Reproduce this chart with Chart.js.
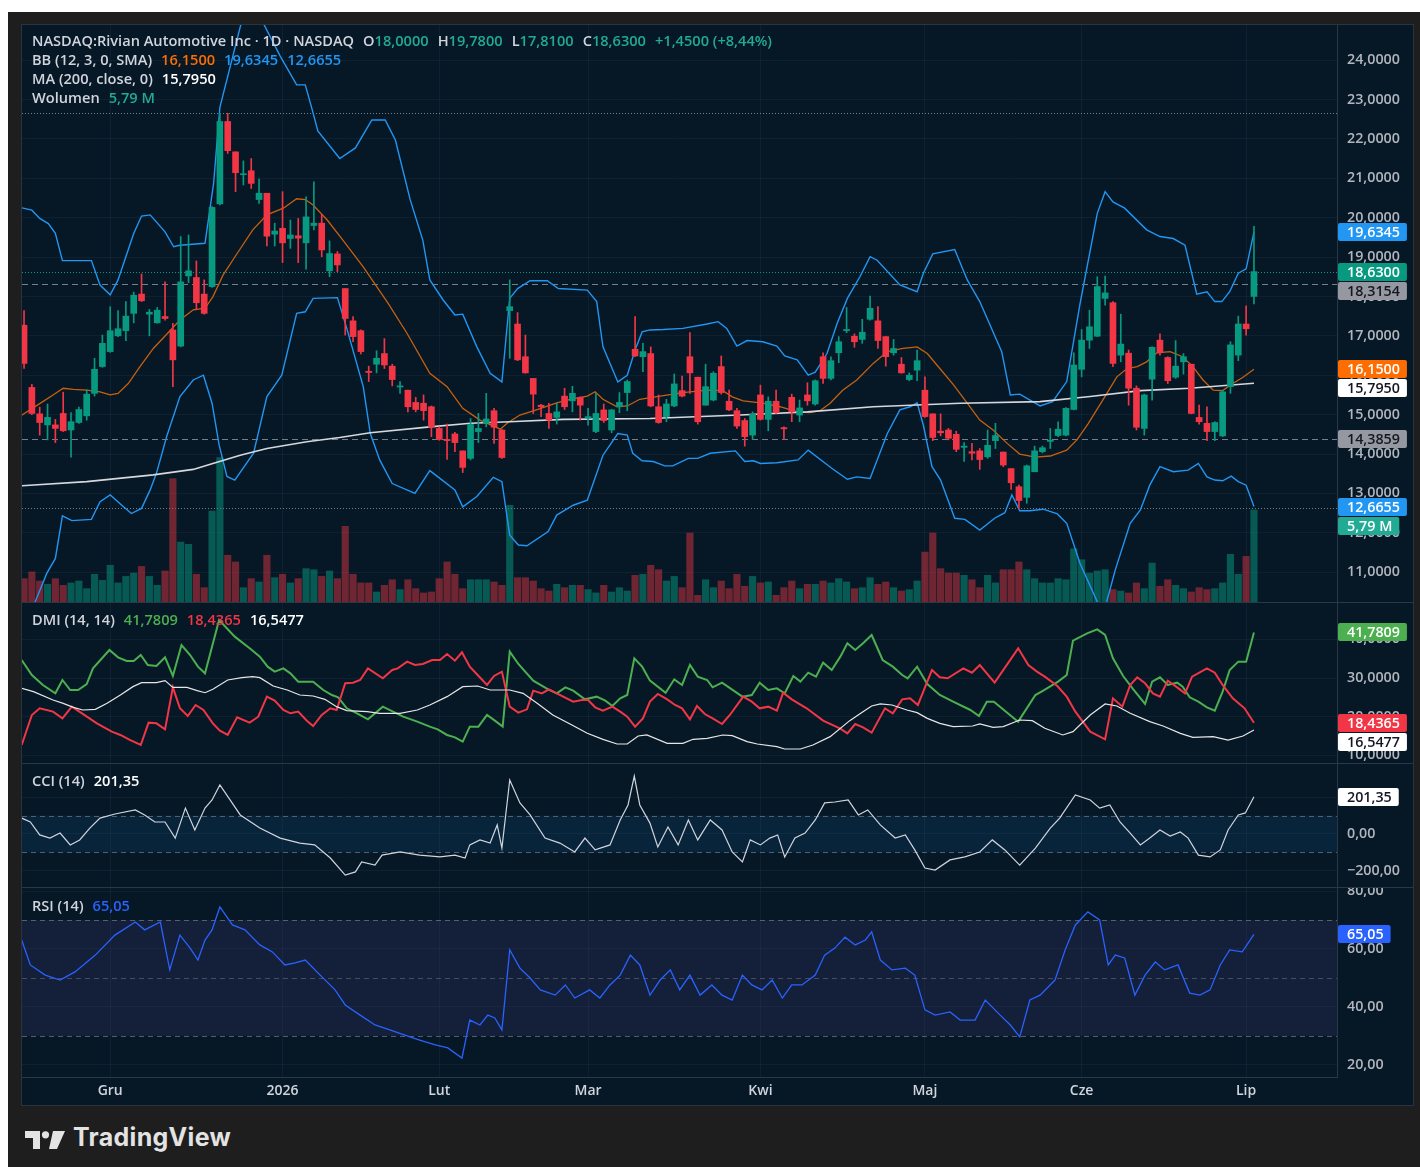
<!DOCTYPE html>
<html>
<head>
<meta charset="utf-8">
<script src="https://cdn.jsdelivr.net/npm/chart.js@4.4.1/dist/chart.umd.min.js"></script>
<style>
html,body{margin:0;padding:0;background:#fff;}
body{width:1420px;height:1167px;position:relative;overflow:hidden;font-family:"Open Sans","Noto Sans",sans-serif;}
#frame{position:absolute;left:8px;top:12px;width:1412px;height:1155px;background:#1e1e1e;}
#panel{position:absolute;left:22px;top:25px;width:1391px;height:1080px;background:#061826;box-shadow:0 0 0 1px #2a3441;}
canvas{position:absolute;left:0;}
.leg{position:absolute;left:10px;font-size:14.6px;font-weight:600;color:#d1d4dc;white-space:nowrap;line-height:18px;}
.leg span{margin-left:9px;}
.leg span.n{margin-left:0;}
.g{color:#22ab94;} .o{color:#ff6d00;} .b{color:#2196f3;} .w{color:#ffffff;}
.dg{color:#4caf50;} .r{color:#f23645;} .rb{color:#2962ff;}
#logo{position:absolute;left:25px;top:1131px;}
#brand{position:absolute;left:73px;top:1122px;font-family:Inter,"Open Sans",sans-serif;font-weight:700;font-size:25px;color:#e3e3e3;letter-spacing:0.3px;}
</style>
</head>
<body>
<div id="frame"></div>
<div id="panel">
  <canvas id="cMain" width="1391" height="577" style="top:0"></canvas>
  <canvas id="cDmi" width="1391" height="161" style="top:577px"></canvas>
  <canvas id="cCci" width="1391" height="124" style="top:738px"></canvas>
  <canvas id="cRsi" width="1391" height="218" style="top:862px"></canvas>

  <div class="leg" style="top:6px">NASDAQ:Rivian Automotive Inc · 1D · NASDAQ<span>O</span><span class="g n">18,0000</span><span>H</span><span class="g n">19,7800</span><span>L</span><span class="g n">17,8100</span><span>C</span><span class="g n">18,6300</span><span class="g">+1,4500 (+8,44%)</span></div>
  <div class="leg" style="top:25px">BB (12, 3, 0, SMA)<span class="o">16,1500</span><span class="b">19,6345</span><span class="b">12,6655</span></div>
  <div class="leg" style="top:44px">MA (200, close, 0)<span class="w">15,7950</span></div>
  <div class="leg" style="top:63px">Wolumen<span class="g">5,79 M</span></div>
  <div class="leg" style="top:585px">DMI (14, 14)<span class="dg">41,7809</span><span class="r">18,4365</span><span class="w">16,5477</span></div>
  <div class="leg" style="top:746px">CCI (14)<span class="w">201,35</span></div>
  <div class="leg" style="top:871px">RSI (14)<span class="rb">65,05</span></div>
</div>
<svg id="logo" width="40" height="18" viewBox="0 0 40 18">
  <path d="M0 0h15v18h-7v-11h-8z" fill="#e3e3e3"/>
  <circle cx="20.5" cy="3.8" r="3.6" fill="#e3e3e3"/>
  <path d="M28 0h12l-8 18h-8z" fill="#e3e3e3"/>
</svg>
<div id="brand">TradingView</div>

<script>
// ---- data ----
var monthIdx = [11, 33, 53, 72, 94, 115, 135, 156];
var monthLab = ['Gru', '2026', 'Lut', 'Mar', 'Kwi', 'Maj', 'Cze', 'Lip'];

var openP = [17.27,15.69,15.02,14.74,14.74,15.03,14.61,14.80,14.97,15.54,
 16.22,16.60,17.00,17.13,17.57,18.06,17.55,17.33,17.49,17.15,
 16.74,18.52,18.48,18.06,18.25,20.35,22.44,21.67,21.09,21.19,
 20.46,20.62,19.58,19.73,19.47,19.54,19.36,19.80,19.86,18.65,
 19.08,18.20,17.38,17.13,16.10,16.28,16.55,16.23,15.70,15.62,
 15.31,15.29,15.20,14.65,14.37,14.51,14.08,13.89,14.57,14.78,
 15.10,14.61,17.64,17.30,16.47,15.92,15.24,15.03,14.93,15.47,
 15.35,15.44,14.91,14.57,15.12,14.61,15.20,15.56,16.66,16.47,
 16.55,15.20,14.95,15.22,15.61,16.47,15.95,15.24,15.37,16.22,
 15.34,15.10,14.85,14.48,15.50,14.88,15.34,14.67,15.44,14.99,
 15.50,15.27,16.47,15.92,16.57,17.13,16.99,16.91,17.42,17.38,
 16.98,16.57,16.28,15.89,16.13,15.62,15.02,14.58,14.61,14.50,
 14.17,14.06,14.08,13.93,14.34,14.05,13.63,13.17,12.90,13.55,
 14.06,14.32,14.47,14.48,15.13,16.15,16.89,16.99,17.95,17.84,
 16.51,16.56,15.67,14.65,15.90,16.89,16.45,15.95,16.34,16.28,
 14.93,14.78,14.57,14.46,15.71,16.51,17.30,18.00];
var highP = [17.64,15.77,15.19,15.27,14.88,15.57,15.05,15.19,15.63,16.43,
 17.02,17.74,17.64,17.87,18.11,18.57,17.67,17.72,18.37,17.32,
 19.52,19.56,18.90,18.42,20.28,22.65,22.65,21.67,21.44,21.50,
 20.98,20.62,19.86,20.66,19.94,19.98,20.53,20.91,20.08,19.41,
 19.14,18.20,17.49,17.15,16.23,16.62,16.93,16.28,15.84,15.62,
 15.44,15.50,15.22,14.69,14.76,14.55,14.08,14.90,15.03,15.54,
 15.16,14.62,18.42,17.59,17.02,15.92,15.26,15.29,15.29,15.67,
 15.72,15.45,15.16,15.54,15.27,15.13,15.56,15.88,17.49,16.81,
 16.72,15.50,15.39,16.03,15.98,17.08,15.95,16.28,16.09,16.49,
 15.62,15.16,14.90,15.07,15.75,15.45,15.62,14.69,15.52,15.37,
 15.81,15.88,16.57,16.47,16.98,17.72,17.05,17.42,18.01,17.74,
 16.98,16.91,16.45,16.06,16.64,15.96,15.02,15.02,14.65,14.58,
 14.29,14.27,14.14,14.61,14.78,14.05,13.63,13.21,13.72,14.20,
 14.20,14.65,14.82,15.18,16.57,17.16,17.65,18.50,18.52,17.87,
 17.55,16.64,15.73,15.52,16.72,17.05,16.47,16.88,16.55,16.28,
 15.24,15.20,14.82,15.62,16.85,17.50,17.76,19.78];
var lowP = [16.17,15.00,14.48,14.36,14.29,14.57,13.92,14.78,14.86,15.47,
 16.20,16.58,16.98,16.88,17.33,17.87,17.00,17.32,17.40,15.71,
 16.72,18.35,17.66,17.55,18.23,20.32,21.63,20.66,20.83,20.74,
 20.36,19.28,19.28,18.86,19.22,18.86,18.69,19.69,19.01,18.50,
 18.63,17.02,16.85,16.54,15.84,16.06,16.17,15.73,15.54,15.07,
 15.07,14.86,14.44,14.35,13.86,14.06,13.53,13.85,14.29,14.69,
 14.27,13.89,16.43,16.37,16.05,15.03,14.95,14.65,14.76,15.13,
 15.07,14.86,14.73,14.54,14.80,14.54,15.05,15.10,16.47,16.09,
 15.20,14.78,14.82,15.20,15.45,15.54,14.76,15.24,15.35,15.52,
 15.10,14.65,14.20,14.37,14.86,14.59,15.03,14.37,14.82,14.82,
 15.24,15.24,15.79,15.88,16.32,17.08,16.71,16.81,17.40,16.68,
 16.23,16.51,16.05,15.86,15.86,14.93,14.34,14.46,14.36,14.06,
 13.81,13.85,13.61,13.89,14.14,13.68,13.10,12.62,12.75,13.55,
 14.03,14.14,14.44,14.46,15.12,15.96,16.68,16.98,17.78,16.22,
 16.34,15.24,14.61,14.48,15.37,16.51,15.79,15.92,16.03,15.02,
 14.76,14.34,14.34,14.44,15.54,16.37,17.02,17.81];
var closeP = [16.30,15.03,14.80,14.93,14.65,14.59,14.82,15.13,15.52,16.15,
 16.81,17.13,17.18,17.50,18.03,17.89,17.60,17.65,17.44,16.39,
 18.37,18.65,17.84,17.57,20.26,22.44,21.70,21.14,21.11,20.87,
 20.62,19.53,19.66,19.36,19.56,19.48,20.02,19.86,19.18,19.09,
 18.80,17.44,16.98,16.60,16.07,16.43,16.26,15.89,15.73,15.20,
 15.13,15.10,14.68,14.37,14.34,14.29,13.66,14.75,14.65,14.89,
 14.68,13.91,17.74,16.39,16.06,15.52,15.20,14.86,15.07,15.20,
 15.54,15.24,14.95,15.03,14.85,15.12,15.31,15.84,16.49,16.60,
 15.22,14.80,15.27,15.78,15.47,16.06,14.82,15.71,16.05,15.56,
 15.12,14.71,14.44,15.01,14.88,15.34,15.05,14.64,15.07,15.17,
 15.35,15.86,15.92,16.37,16.85,17.16,16.85,17.09,17.70,16.88,
 16.47,16.68,16.06,16.00,16.37,14.95,14.42,14.54,14.40,14.12,
 14.20,14.02,13.86,14.22,14.47,13.72,13.27,12.82,13.70,14.08,
 14.16,14.35,14.63,15.16,16.26,16.89,17.23,18.25,18.09,16.30,
 16.79,15.67,14.68,15.50,16.71,16.57,15.86,16.23,16.47,15.03,
 14.82,14.57,14.80,15.58,16.77,17.30,17.18,18.63];
var volumeM = [1.47,1.89,1.32,1.11,1.47,1.05,1.20,1.32,0.84,1.74,
 1.36,2.31,1.20,1.61,1.82,2.24,1.61,1.05,1.95,7.76,
 3.77,3.63,1.74,0.90,5.72,9.08,2.94,2.52,0.90,1.47,
 1.26,2.94,1.53,1.74,1.20,1.47,2.10,2.03,1.61,1.95,
 1.47,4.76,1.74,1.20,1.20,0.63,1.05,1.40,0.78,1.40,
 0.84,0.57,0.63,1.47,2.52,1.74,0.84,1.40,1.40,1.40,
 1.26,1.05,6.08,1.53,1.53,1.32,0.84,0.69,1.11,0.90,
 1.05,1.05,0.78,0.57,1.05,0.63,0.90,0.69,1.68,1.74,
 2.31,2.03,1.32,1.61,0.90,4.34,0.42,1.40,0.90,1.32,
 0.84,1.74,0.99,1.61,1.20,1.26,0.42,0.90,1.32,0.84,
 1.11,1.11,1.32,1.20,1.47,1.26,0.84,0.90,1.53,1.11,
 1.26,0.90,0.69,0.78,1.32,3.14,4.34,2.10,1.82,1.82,
 1.68,1.40,0.90,1.68,1.20,2.03,2.03,2.52,2.03,1.47,
 1.20,1.20,1.47,1.40,3.35,2.66,1.82,1.95,2.03,0.78,
 0.69,0.57,1.20,0.84,2.45,0.99,1.40,1.05,0.84,0.63,
 0.90,0.78,0.84,1.20,3.00,1.74,2.87,5.79];

// indicator lines: [bar index, value] vertices
var bbUpper = [[-0.5,20.26],[1,20.19],[2,19.98],[3.1,19.85],[4,19.6],[4.9,18.91],[8.6,18.91],[9.7,18.29],[11,18.04],[12,18.42],[14,19.6],[15,20.04],[16.1,20.07],[18,19.64],[19.1,19.26],[19.9,19.3],[23.1,19.35],[24.2,20.87],[25,22.8],[27.8,25],[29.1,26],[30.5,24.95],[32.7,24.1],[34.8,23.37],[35.9,23.37],[36.8,22.73],[37.5,22.2],[40.3,21.5],[42.3,21.77],[44.4,22.48],[46.1,22.48],[47.4,21.97],[49.3,20.45],[50.9,19.43],[51.8,18.42],[53.5,17.91],[55,17.53],[56,17.55],[57.8,16.72],[59.5,16.05],[61,15.83],[62,17.95],[63,18.2],[64.6,18.4],[66.8,18.4],[68.2,18.2],[71.9,18.16],[73.1,17.87],[73.9,16.72],[75.8,15.83],[77,16],[78,16.64],[78.9,17.1],[79.9,17.15],[81.6,17.16],[84.1,17.19],[87.2,17.3],[88.6,17.36],[89.7,17.19],[91,16.74],[92.3,16.88],[94.3,16.85],[96.1,16.74],[97.1,16.49],[98.7,16.39],[100.1,16],[101,16.08],[102.5,16.55],[103.8,17.32],[105.1,17.95],[106.7,18.5],[108,19.01],[108.9,18.92],[111.8,18.29],[114,18.12],[114.8,18.59],[116,19.08],[118.8,19.19],[120.4,18.42],[122,17.87],[124.8,16.6],[125.9,15.5],[127.1,15.52],[129.7,15.22],[131.3,15.33],[133.1,15.84],[134.8,17.82],[137,20.11],[138,20.66],[139,20.4],[140.5,20.24],[143.3,19.69],[145,19.52],[146.7,19.47],[148.2,19.3],[149.7,18.06],[151,18.12],[152,17.87],[152.9,17.87],[153.9,18.12],[155,18.59],[156,18.7],[157,19.63]];
var bbLower = [[-0.5,9.6],[1.4,10.24],[2.9,10.97],[4,11.35],[4.9,12.43],[6.1,12.31],[8.6,12.34],[9.7,12.79],[11,12.96],[12.3,12.73],[13.7,12.49],[15,12.62],[16.1,13.09],[16.9,13.51],[18.2,14.44],[19.9,15.46],[21.6,15.88],[22.9,16],[24,15.29],[24.9,14.23],[25.9,13.43],[26.9,13.34],[29.3,14.02],[31,15.46],[32.9,16],[34.8,17.57],[35.9,17.61],[36.9,17.95],[40,17.97],[41.2,17.19],[43.3,15.71],[44.2,14.52],[45.4,13.85],[47,13.25],[49.9,13],[51.8,13.58],[55,13.09],[56,12.66],[57.8,12.92],[59.9,13.41],[61,13.3],[62,11.94],[63.1,11.69],[64.2,11.67],[66.9,12.03],[68,12.45],[70.1,12.7],[71.9,12.83],[73.9,13.97],[75.8,14.52],[77,14.48],[77.7,14.02],[78.9,13.83],[80.3,13.81],[81.8,13.7],[82.8,13.7],[84.8,13.89],[86,13.89],[87.6,14.02],[90.8,14.08],[92,13.81],[93.1,13.83],[94,13.76],[96.1,13.78],[98.8,13.85],[100.1,14.1],[103.1,13.64],[105.1,13.36],[106.3,13.42],[108,13.38],[110.2,14.52],[111.8,15.12],[113.1,15.2],[114,15.3],[114.8,14.73],[115.9,13.68],[117,13.34],[118.8,12.37],[120.1,12.34],[122,12.07],[123.9,12.37],[125.2,12.51],[126.1,12.96],[127.1,12.56],[128.4,12.56],[130.1,12.6],[131.9,12.48],[133.1,12.24],[134.8,11.22],[137,10.25],[137.6,9.9],[138.2,10.25],[139.3,11.06],[141.2,12.24],[142.5,12.58],[143.7,13.21],[145,13.68],[146.7,13.55],[148.6,13.59],[149.9,13.76],[151,13.42],[152,13.34],[153,13.32],[154.1,13.44],[155,13.3],[156,13.21],[157,12.67]];
var bbMid = [[-0.5,14.96],[2,15.28],[3.7,15.5],[5,15.67],[6.3,15.64],[8,15.62],[9.7,15.58],[11,15.5],[12,15.54],[13.3,15.79],[14.8,16.22],[16.5,16.68],[18.3,17.06],[19.9,17.4],[21.6,17.66],[23.1,17.7],[24.1,17.99],[25.4,18.54],[27.2,19.09],[29.2,19.69],[31,20.07],[33.1,20.24],[34.8,20.48],[35.9,20.46],[36.9,20.32],[38.7,19.94],[40.7,19.43],[43.3,18.75],[46.5,17.82],[48.9,17.06],[51.8,16.05],[54,15.71],[56,15.16],[58.2,14.86],[60.8,14.63],[61.7,14.79],[63.3,14.99],[65.5,15.13],[68,15.3],[69.7,15.39],[71.9,15.47],[72.9,15.58],[73.9,15.39],[75.7,15.2],[77,15.22],[78.6,15.39],[81.2,15.47],[84.1,15.56],[87.2,15.62],[89.2,15.61],[90.4,15.45],[91.8,15.35],[94.3,15.29],[96.5,15.2],[98.7,15.07],[100.3,15.05],[101.6,15.1],[102.9,15.29],[104.5,15.62],[106.3,15.88],[108.4,16.3],[110.2,16.6],[112.2,16.68],[114,16.72],[115.3,16.55],[116.9,16.17],[118.6,15.77],[120.4,15.29],[122,14.86],[123.7,14.61],[125.5,14.27],[127.1,14],[129.1,13.92],[131,13.95],[133.1,14.1],[134.4,14.36],[135.8,14.76],[137.7,15.37],[139.5,15.96],[140.8,16.17],[142.1,16.22],[143.3,16.34],[144.6,16.57],[146.3,16.6],[147.9,16.47],[149.2,16.22],[150.5,15.88],[151.8,15.62],[153,15.61],[154.3,15.79],[155.6,15.95],[157,16.15]];
var ma200 = [[-0.5,13.19],[8,13.3],[16.5,13.47],[21.6,13.61],[24.1,13.76],[27.6,13.97],[31,14.14],[36.1,14.31],[40.3,14.42],[44.2,14.54],[51.8,14.69],[57,14.78],[62,14.82],[68.8,14.88],[79.9,14.9],[91.4,14.99],[100,15.07],[108.4,15.2],[119.5,15.29],[129.7,15.33],[136.1,15.46],[142.5,15.61],[148.8,15.67],[157,15.795]];

var diPlus = [[-0.3,34.66],[1,30.78],[2.4,28.2],[4,26.04],[4.9,29.49],[5.9,26.9],[6.9,26.9],[8,28.45],[8.8,32.5],[10.9,37.24],[12,35.35],[13.1,34.4],[14,34.4],[14.9,35.95],[15.8,33.36],[16.9,33.1],[18,35.35],[19,30.52],[20.1,38.53],[21.2,35.95],[22.2,32.93],[23.1,31.21],[24.9,44.99],[26.9,40.69],[28.8,37.67],[30.1,35.52],[31.1,32.93],[32,31.64],[33.1,32.5],[34,31.21],[35,29.06],[36.9,29.06],[38.2,26.9],[39.3,25.61],[40.1,25.01],[41.2,22.17],[42.5,20.88],[43.9,19.33],[45.8,22.6],[48.4,20.01],[50.2,18.72],[51.8,17.43],[52.8,16.74],[54,15.28],[55,14.67],[56,13.55],[56.9,17.43],[58,17.43],[59.1,20.45],[60.1,18.98],[61.1,17.43],[62,36.81],[63.1,33.62],[65,29.32],[66.9,27.08],[68,26.04],[69.1,27.59],[70.1,26.73],[71.6,24.49],[73.1,25.18],[74.2,24.15],[75.1,22.77],[76.1,24.75],[77,25.61],[77.9,35.09],[78.9,32.93],[79.9,29.32],[81.9,26.2],[83,29.66],[84,28.2],[85,33.36],[86,30.35],[87.2,29.49],[87.9,27.59],[89.1,28.8],[91.7,25.18],[92.9,25.61],[93.9,28.8],[95,26.9],[96.1,27.33],[97.1,26.04],[98.2,30.52],[99.1,29.06],[100.1,31.38],[101.1,30.35],[102,33.97],[103.1,32.07],[104.2,35.52],[105.1,38.96],[106.1,37.24],[107.1,38.96],[108.2,41.12],[109.6,34.66],[110.9,32.93],[112.1,30.78],[112.8,29.92],[114,32.93],[115.3,28.45],[116.9,25.61],[118.6,23.89],[120.8,21.74],[121.9,20.19],[122.9,23.89],[123.8,23.89],[125.5,21.05],[126.9,18.72],[129.1,25.61],[130.1,26.73],[132,29.06],[133.1,30.78],[133.9,39.65],[135.7,41.55],[137,42.58],[138,41.12],[139,35.09],[140.3,30.52],[141.6,27.08],[143.1,23.29],[144,29.06],[145,30.18],[146,28.2],[147.2,28.8],[147.9,27.77],[148.8,25.01],[149.9,23.89],[151,22.43],[152,21.57],[153,26.47],[153.9,32.07],[155,34.23],[156,34.23],[157,41.78]];
var diMinus = [[-0.3,12.69],[1,20.45],[2,22.17],[3.7,21.31],[4.9,19.58],[6.1,22.6],[7.4,20.88],[9.3,18.29],[11.2,16.14],[12.3,15.28],[13.5,13.99],[14.9,12.69],[15.9,18.46],[16.9,18.29],[18,16.74],[19,27.59],[19.9,22.17],[20.9,20.19],[21.9,23.03],[22.9,21.74],[24.1,18.29],[25,16.4],[26,15.28],[27.2,19.84],[28.8,18.46],[29.9,20],[31,25.18],[32,24.15],[33.1,21.74],[34,20.88],[35,21.31],[36.1,18.98],[36.9,17.6],[38,20.45],[39.1,22.17],[39.9,21.74],[41,28.63],[42,28.8],[42.9,29.49],[43.9,32.5],[45.8,29.92],[47,32.07],[47.7,32.5],[48.9,34.23],[49.9,33.36],[50.9,33.62],[52.1,34.66],[53.1,34.66],[54,36.21],[55,34.48],[55.9,36.64],[56.9,32.93],[57.9,30.78],[59.1,28.2],[60,30.52],[61,31.64],[62,22.6],[63.1,21.05],[64.2,21.91],[65,26.73],[66.1,26.04],[67,27.08],[68,26.04],[70.1,23.89],[71.2,24.32],[72,24.32],[72.9,22.43],[73.9,21.57],[75.1,22.6],[76.1,21.31],[77,20.01],[78,17.43],[79,19.58],[79.9,23.89],[80.9,25.87],[82.1,24.49],[83.1,23.03],[84,22.17],[85,19.33],[85.9,22.77],[86.9,20.7],[87.9,19.58],[89.1,18.12],[90.1,20.45],[91.8,25.18],[92.9,23.89],[93.9,22.17],[95,22.6],[96.1,21.57],[96.9,26.2],[98,24.49],[99.9,22.17],[102,18.98],[104.2,16.9],[105.1,15.71],[106.1,18.12],[107.1,17.26],[108.2,15.88],[109.9,22.17],[110.9,20.88],[112.1,24.49],[113.1,24.75],[114.1,23.03],[115.9,32.07],[116.9,30.18],[117.9,29.92],[119.9,32.5],[121,31.38],[122,33.36],[123.9,28.8],[126.9,37.67],[128.2,33.36],[129.3,31.64],[130.3,30.35],[131.9,27.94],[133.1,25.18],[134.2,21.31],[136.1,16.14],[138,14.16],[139,24.75],[140.2,22.6],[141.2,28.2],[142.1,30.18],[143.1,28.63],[144.1,26.04],[145,25.18],[146,29.32],[147.2,27.59],[148.2,26.04],[149.1,30.35],[151,32.5],[152,31.38],[153,28.2],[154.3,24.75],[155.8,22.17],[157,18.44]];
var adx = [[-0.3,27.33],[1.2,26.47],[3.7,24.32],[5,23.46],[6.3,22.43],[7.5,21.74],[9.1,21.91],[10.6,23.46],[12.3,25.61],[13.9,27.77],[15,28.8],[16.9,28.8],[18,29.32],[19,27.59],[20.8,27.59],[22.1,26.73],[23.1,26.2],[24.1,27.08],[26,29.49],[27.8,30.09],[29.2,30.35],[30.1,30.09],[31.8,27.94],[33.6,26.9],[35.2,25.61],[36.9,25.35],[38.4,24.49],[39.9,22.6],[41.2,21.57],[43.8,21.31],[45.4,20.88],[48,20.88],[50.2,21.74],[51.8,23.03],[54,25.18],[56,27.77],[57.9,27.94],[59.5,26.9],[62,26.9],[63.7,26.04],[65.5,23.46],[67.5,20.45],[69.7,18.12],[71.9,15.71],[73.9,14.16],[75.7,12.95],[77,12.95],[78.4,15.02],[79.5,15.28],[82.1,13.12],[84.1,13.12],[85.4,14.16],[87.2,14.41],[89.2,15.28],[90.4,15.11],[92.3,13.55],[93.6,12.95],[96.1,12.26],[97.1,11.66],[99.1,11.66],[100.7,12.69],[102.9,14.85],[105.4,18.98],[106.9,21.05],[108.2,22.77],[109.3,23.29],[110.8,23.03],[112.7,21.74],[114,21.05],[115.3,19.58],[116.9,18.29],[118.6,17.43],[121.1,17.6],[122,18.12],[123.7,17.26],[125,17.43],[127.1,19.15],[128.7,18.98],[130.3,17],[132.6,15.28],[133.9,16.14],[136.1,20.45],[138,23.29],[139.5,22.77],[141.2,20.88],[143.7,18.72],[145.4,17.6],[147.6,15.71],[149.2,14.67],[151.8,14.85],[153.7,13.98],[155.6,15.02],[157,16.55]];
var cci = [[-0.3,86],[0.8,65],[2,-5],[3.3,-22],[4.6,5],[5.9,-59],[7.1,-32],[8.4,32],[9.7,86],[11.6,108],[14.2,130],[15.4,103],[16.7,65],[18,65],[19.3,-22],[20.6,140],[21.8,22],[23.1,140],[24,184],[25,265],[26.3,184],[27.6,103],[30.1,32],[32.7,-22],[35.2,-49],[37.1,-59],[39.1,-130],[41,-222],[42.3,-205],[43.1,-151],[44.8,-168],[45.7,-114],[48,-97],[50.5,-114],[53.1,-124],[55,-114],[56.3,-130],[56.9,-59],[58.2,-32],[59.5,-49],[60.4,49],[61,-76],[62,292],[63.3,168],[64.6,103],[66.5,-22],[68.4,-49],[70.3,-97],[71.6,-22],[72.9,-86],[74.8,-59],[76.1,76],[77.1,157],[77.9,313],[78.6,157],[79.9,59],[80.9,-70],[82.2,38],[83.5,-59],[84.8,76],[86,-32],[87.6,76],[89.1,22],[90.4,-97],[91.7,-151],[92.7,-32],[94,-59],[95.2,-22],[96.2,-5],[97.1,-124],[98.4,-22],[99.7,5],[101,76],[102.2,168],[103.5,173],[105.2,184],[106.5,103],[107.7,130],[109.3,49],[111.2,-22],[112.5,-5],[113.7,-86],[115,-184],[116.3,-195],[118.2,-140],[120.1,-124],[122,-97],[123.6,-32],[125.2,-86],[127.1,-168],[129.1,-76],[131,32],[132.2,86],[134.2,211],[136.1,184],[137.3,140],[138.6,157],[139.9,65],[141.2,5],[142.5,-59],[143.7,-22],[145,22],[146.3,-11],[147.6,11],[148.6,-22],[149.9,-114],[151.4,-124],[152.7,-86],[153.7,22],[155,103],[155.9,114],[157,201.35]];
var rsi = [[-0.3,63.1],[0.8,54.5],[2.7,51],[4.6,49.3],[6.5,52.1],[9.1,57.9],[11.6,64.8],[14.2,69.3],[15.4,66.6],[17.4,69.3],[18.6,52.8],[19.9,64.8],[21.2,60.3],[22.2,56.2],[23.1,63.1],[24,66.6],[25,74.5],[26.6,68.3],[28.2,66.6],[30.1,61.4],[31.7,59],[33.3,54.5],[34.6,55.2],[35.9,56.2],[37.8,51],[39.7,45.9],[41,40.7],[42.9,37.2],[44.8,33.8],[46.7,32.1],[48.6,30.3],[50.5,28.6],[52.5,26.9],[54.1,25.9],[55.9,22.4],[56.9,35.5],[58.2,33.8],[59.2,37.2],[60.1,36.2],[61,32.1],[62,59.7],[63.3,53.4],[64.6,50],[65.9,45.9],[67.8,44.1],[69.1,47.6],[70.3,43.1],[72.2,45.9],[73.5,43.1],[74.8,47.6],[76.1,51],[77.4,57.9],[78.6,54.5],[79.9,44.1],[81.2,49.3],[82.5,52.8],[83.7,45.9],[85,51],[86.3,44.1],[87.8,47.6],[89.1,44.1],[90.4,42.4],[91.7,51],[92.9,47.6],[94.2,45.9],[95.5,49.3],[96.8,43.1],[98,47.6],[99.3,47.6],[101,51],[102.2,57.9],[103.5,60.3],[104.8,64.1],[106.1,61.4],[107.4,63.1],[108.2,65.9],[109.3,56.2],[110.8,52.8],[112.5,53.4],[113.7,51],[115,39],[116.3,37.2],[118.2,38.3],[119.5,35.5],[121.4,35.5],[122.7,42.4],[124.6,37.2],[125.9,33.8],[127.1,29.7],[128.4,42.4],[129.7,44.1],[131.6,49.3],[132.9,59.7],[134.2,68.3],[135.8,72.8],[137.3,70],[138.4,54.5],[139.3,57.9],[140.5,56.9],[141.8,44.1],[143.1,51],[144.4,55.5],[145.6,52.8],[147.3,54.5],[148.8,44.8],[150.1,44.1],[151.4,45.9],[152.7,54.5],[153.9,59.7],[155.5,59],[157,65.05]];

// reference levels and last values shown on the price scale
var hiLoLevels = [22.65, 12.62];
var dashLevels = [18.3154, 14.3859];
var lastPrice = 18.63;
var lastBB = [19.6345, 16.15, 12.6655];   // upper, basis, lower
var lastMA = 15.795;
var lastVol = 5.79;
var lastDmi = [41.7809, 18.4365, 16.5477]; // +DI, -DI, ADX
var lastCci = 201.35;
var lastRsi = 65.05;

var priceTicks = [11,12,13,14,15,16,17,18,19,20,21,22,23,24];
var dmiTicks = [10,20,30,40];
var cciTicks = [-200,0,200];
var rsiTicks = [20,40,60,80];
var cciBand = [-100, 100];
var rsiBand = [30, 70];
var rsiMid = 50;

// ---- styling / drawing ----
var FONT = '"Open Sans", "Noto Sans", sans-serif';
var GREEN = '#089981', RED = '#f23645';
var GRID = 'rgba(140,160,180,0.07)', SEP = '#2a3845';
var X_MIN = -0.26, X_MAX = 167.6;

function pts(a) { return a.map(function(p){ return {x:p[0], y:p[1]}; }); }
function comma(v, d) { var s = Math.abs(v).toFixed(d).replace('.', ','); return (v < 0 ? '\u2212' : '') + s; }

var up = openP.map(function(o, i){ return closeP[i] >= o; });
var candleCol = up.map(function(u){ return u ? GREEN : RED; });
var volCol = up.map(function(u){ return u ? 'rgba(8,153,129,0.5)' : 'rgba(242,54,69,0.45)'; });

function xScale(show) {
  return {
    type: 'linear', min: X_MIN, max: X_MAX, offset: false,
    afterBuildTicks: function(s){ s.ticks = monthIdx.map(function(v){ return {value:v}; }); },
    afterFit: function(s){ s.height = show ? 28 : 0; s.paddingLeft = 0; s.paddingRight = 0; },
    grid: {color: GRID, drawTicks: false, offset: false},
    border: {display: show, color: SEP},
    ticks: {display: show, autoSkip: false, maxRotation: 0, padding: 6, color: '#d1d4dc',
      font: {family: FONT, size: 14, weight: '600'},
      callback: function(v){ return monthLab[monthIdx.indexOf(v)]; }}
  };
}
function yScale(min, max, ticks, fmt) {
  return {
    position: 'right', min: min, max: max,
    afterBuildTicks: function(s){ s.ticks = ticks.map(function(v){ return {value:v}; }); },
    afterFit: function(s){ s.width = 76; s.paddingTop = 0; s.paddingBottom = 0; },
    grid: {color: GRID, drawTicks: false},
    border: {color: SEP},
    ticks: {autoSkip: false, padding: 10, color: '#b2b5be', font: {family: FONT, size: 14.3, weight: '600'}, callback: fmt}
  };
}

var guidePlugin = {
  id: 'guides',
  beforeDatasetsDraw: function(chart, args, o) {
    var ctx = chart.ctx, a = chart.chartArea, y = chart.scales.y;
    ctx.save();
    (o.bands || []).forEach(function(b){
      var y1 = y.getPixelForValue(b.to), y2 = y.getPixelForValue(b.from);
      ctx.fillStyle = b.color; ctx.fillRect(a.left, y1, a.right - a.left, y2 - y1);
    });
    (o.lines || []).forEach(function(l){
      var py = Math.round(y.getPixelForValue(l.v)) + 0.5;
      ctx.strokeStyle = l.color; ctx.lineWidth = 1; ctx.setLineDash(l.dash);
      ctx.beginPath(); ctx.moveTo(a.left, py); ctx.lineTo(a.right, py); ctx.stroke();
    });
    ctx.restore();
  }
};
var badgePlugin = {
  id: 'badges',
  afterDraw: function(chart, args, o) {
    var ctx = chart.ctx, x0 = chart.chartArea.right + 1;
    ctx.save();
    ctx.font = '600 14.3px ' + FONT;
    var items = (o.items || []).map(function(b){
      return Object.assign({}, b, {py: chart.scales[b.axis].getPixelForValue(b.v)});
    }).sort(function(a, b){ return a.py - b.py; });
    var prev = -1e9;
    items.forEach(function(b){
      var yy = Math.max(b.py, prev + 19); prev = yy;
      var w = ctx.measureText(b.text).width + 16;
      ctx.fillStyle = b.bg;
      ctx.beginPath(); ctx.roundRect(x0, Math.round(yy - 9), w, 18, 2); ctx.fill();
      ctx.fillStyle = b.fg; ctx.textBaseline = 'middle'; ctx.textAlign = 'left';
      ctx.fillText(b.text, x0 + 9, Math.round(yy) + 1);
    });
    ctx.restore();
  }
};
var sepPlugin = {
  id: 'sep',
  afterDraw: function(chart, args, o) {
    if (!o.top) return;
    chart.ctx.save(); chart.ctx.fillStyle = SEP; chart.ctx.fillRect(0, 0, chart.width, 1); chart.ctx.restore();
  }
};

function baseOpts(scales, plugins) {
  return {
    responsive: false, animation: false, devicePixelRatio: 1,
    layout: {padding: 0},
    plugins: Object.assign({legend: {display: false}, tooltip: {enabled: false}}, plugins),
    scales: scales
  };
}
function line(data, color, width, order, axis) {
  return {type: 'line', data: pts(data), borderColor: color, borderWidth: width, pointRadius: 0,
    tension: 0, fill: false, order: order, yAxisID: axis || 'y'};
}

var idx = openP.map(function(_, i){ return i; });
var dim = 'rgba(178,181,190,0.65)';

// main price pane
new Chart(document.getElementById('cMain'), {
  type: 'bar',
  data: {datasets: [
    {type: 'bar', yAxisID: 'yv', data: idx.map(function(i){ return {x:i, y:volumeM[i]}; }),
      backgroundColor: volCol, barThickness: 6.5, grouped: false, order: 10},
    line(bbUpper, '#2196f3', 1.4, 6),
    line(bbLower, '#2196f3', 1.4, 6),
    line(bbMid, '#c8600f', 1.3, 5),
    line(ma200, '#d6d8de', 1.6, 4),
    {type: 'bar', data: idx.map(function(i){ return {x:i, y:[lowP[i], highP[i]]}; }),
      backgroundColor: candleCol, barThickness: 1, grouped: false, order: 2},
    {type: 'bar', data: idx.map(function(i){ return {x:i, y:[openP[i], closeP[i]]}; }),
      backgroundColor: candleCol, barThickness: 6, minBarLength: 1, grouped: false, order: 1}
  ]},
  options: baseOpts({
    x: xScale(false),
    y: yScale(10.244, 24.89, priceTicks, function(v){ return comma(v, 4); }),
    yv: {display: false, min: 0, max: 36.3}
  }, {
    guides: {lines: [
      {v: hiLoLevels[0], color: dim, dash: [1, 2]},
      {v: hiLoLevels[1], color: dim, dash: [1, 2]},
      {v: lastPrice, color: GREEN, dash: [1, 2]},
      {v: dashLevels[0], color: dim, dash: [6, 4]},
      {v: dashLevels[1], color: dim, dash: [6, 4]}
    ]},
    badges: {items: [
      {axis: 'y', v: lastBB[0], text: comma(lastBB[0], 4), bg: '#2196f3', fg: '#fff'},
      {axis: 'y', v: lastPrice, text: comma(lastPrice, 4), bg: GREEN, fg: '#fff'},
      {axis: 'y', v: dashLevels[0], text: comma(dashLevels[0], 4), bg: '#9598a1', fg: '#131722'},
      {axis: 'y', v: lastBB[1], text: comma(lastBB[1], 4), bg: '#ff6d00', fg: '#fff'},
      {axis: 'y', v: lastMA, text: comma(lastMA, 4), bg: '#ffffff', fg: '#131722'},
      {axis: 'y', v: dashLevels[1], text: comma(dashLevels[1], 4), bg: '#9598a1', fg: '#131722'},
      {axis: 'y', v: lastBB[2], text: comma(lastBB[2], 4), bg: '#2196f3', fg: '#fff'},
      {axis: 'yv', v: lastVol, text: comma(lastVol, 2) + ' M', bg: '#22ab94', fg: '#fff'}
    ]},
    sep: {top: false}
  }),
  plugins: [guidePlugin, badgePlugin, sepPlugin]
});

// DMI pane
new Chart(document.getElementById('cDmi'), {
  type: 'line',
  data: {datasets: [
    line(diPlus, '#4caf50', 2, 3),
    line(diMinus, '#f23645', 2, 2),
    line(adx, '#e6e6e6', 1.2, 1)
  ]},
  options: baseOpts({
    x: xScale(false),
    y: yScale(8.04, 49.64, dmiTicks, function(v){ return comma(v, 4); })
  }, {
    badges: {items: [
      {axis: 'y', v: lastDmi[0], text: comma(lastDmi[0], 4), bg: '#4caf50', fg: '#fff'},
      {axis: 'y', v: lastDmi[1], text: comma(lastDmi[1], 4), bg: '#f23645', fg: '#fff'},
      {axis: 'y', v: lastDmi[2], text: comma(lastDmi[2], 4), bg: '#ffffff', fg: '#131722'}
    ]},
    sep: {top: true}
  }),
  plugins: [badgePlugin, sepPlugin]
});

// CCI pane
new Chart(document.getElementById('cCci'), {
  type: 'line',
  data: {datasets: [line(cci, '#d1d4dc', 1.2, 1)]},
  options: baseOpts({
    x: xScale(false),
    y: yScale(-286.5, 383.8, cciTicks, function(v){ return comma(v, 2); })
  }, {
    guides: {
      bands: [{from: cciBand[0], to: cciBand[1], color: 'rgba(33,150,243,0.10)'}],
      lines: [{v: cciBand[0], color: 'rgba(120,123,134,0.7)', dash: [5, 4]},
              {v: cciBand[1], color: 'rgba(120,123,134,0.7)', dash: [5, 4]}]
    },
    badges: {items: [{axis: 'y', v: lastCci, text: comma(lastCci, 2), bg: '#ffffff', fg: '#131722'}]},
    sep: {top: true}
  }),
  plugins: [guidePlugin, badgePlugin, sepPlugin]
});

// RSI pane + time axis
new Chart(document.getElementById('cRsi'), {
  type: 'line',
  data: {datasets: [line(rsi, '#2962ff', 1.3, 1)]},
  options: baseOpts({
    x: xScale(true),
    y: yScale(15.86, 81.38, rsiTicks, function(v){ return comma(v, 2); })
  }, {
    guides: {
      bands: [{from: rsiBand[0], to: rsiBand[1], color: 'rgba(126,87,194,0.12)'}],
      lines: [{v: rsiBand[1], color: 'rgba(120,123,134,0.7)', dash: [5, 4]},
              {v: rsiMid, color: 'rgba(120,123,134,0.5)', dash: [5, 4]},
              {v: rsiBand[0], color: 'rgba(120,123,134,0.7)', dash: [5, 4]}]
    },
    badges: {items: [{axis: 'y', v: lastRsi, text: comma(lastRsi, 2), bg: '#2962ff', fg: '#fff'}]},
    sep: {top: true}
  }),
  plugins: [guidePlugin, badgePlugin, sepPlugin]
});
</script>
</body>
</html>
